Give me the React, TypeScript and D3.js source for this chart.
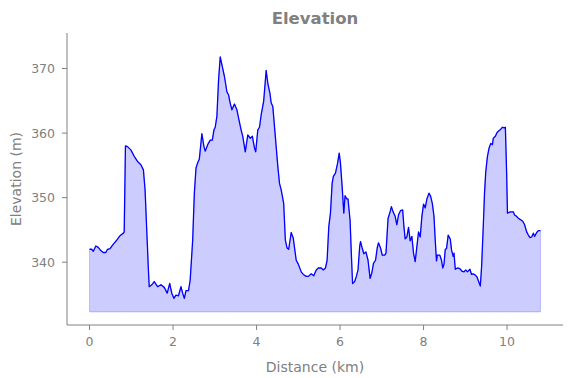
import React from "react";
import * as d3 from "d3";

const distanceKm: number[] = [
  0.0, 0.05, 0.09, 0.15, 0.21, 0.27, 0.33, 0.39, 0.43, 0.49, 0.57, 0.65, 0.73, 0.81, 0.83,
  0.86, 0.91, 0.99, 1.07, 1.15, 1.23, 1.29, 1.33, 1.37, 1.41, 1.43, 1.49, 1.55, 1.63, 1.71,
  1.79, 1.86, 1.92, 1.97, 2.02, 2.07, 2.13, 2.19, 2.23, 2.27, 2.31, 2.37, 2.41, 2.47, 2.51,
  2.55, 2.59, 2.63, 2.69, 2.74, 2.77, 2.83, 2.89, 2.94, 2.98, 3.01, 3.05, 3.09, 3.13, 3.18,
  3.23, 3.29, 3.33, 3.37, 3.41, 3.47, 3.53, 3.58, 3.63, 3.67, 3.73, 3.79, 3.85, 3.9, 3.95,
  3.98, 4.03, 4.07, 4.11, 4.17, 4.23, 4.27, 4.32, 4.35, 4.39, 4.43, 4.47, 4.51, 4.55, 4.59,
  4.65, 4.69, 4.73, 4.77, 4.83, 4.88, 4.95, 5.0, 5.07, 5.12, 5.19, 5.24, 5.31, 5.37, 5.43,
  5.48, 5.55, 5.6, 5.65, 5.69, 5.73, 5.77, 5.81, 5.84, 5.89, 5.94, 5.98, 6.01, 6.05, 6.09,
  6.12, 6.16, 6.19, 6.24, 6.27, 6.3, 6.35, 6.39, 6.43, 6.47, 6.49, 6.53, 6.57, 6.62, 6.67,
  6.72, 6.76, 6.8, 6.85, 6.89, 6.92, 6.97, 7.01, 7.07, 7.1, 7.15, 7.19, 7.23, 7.27, 7.32,
  7.36, 7.4, 7.45, 7.5, 7.53, 7.56, 7.6, 7.64, 7.68, 7.72, 7.76, 7.8, 7.84, 7.88, 7.92,
  7.96, 8.0, 8.04, 8.08, 8.13, 8.17, 8.21, 8.25, 8.28, 8.31, 8.33, 8.39, 8.43, 8.46, 8.49,
  8.52, 8.55, 8.59, 8.64, 8.67, 8.71, 8.73, 8.76, 8.81, 8.87, 8.92, 8.97, 9.01, 9.05, 9.11,
  9.15, 9.19, 9.24, 9.28, 9.32, 9.36, 9.39, 9.43, 9.46, 9.49, 9.53, 9.57, 9.61, 9.65, 9.67,
  9.72, 9.76, 9.81, 9.85, 9.89, 9.93, 9.96, 9.99, 10.01, 10.04, 10.09, 10.15, 10.18, 10.23, 10.27,
  10.32, 10.38, 10.42, 10.47, 10.51, 10.55, 10.59, 10.63, 10.66, 10.71, 10.75, 10.8,
];

const elevationM: number[] = [
  342.0, 342.0, 341.7, 342.5, 342.3, 341.8, 341.5, 341.5, 342.0, 342.1, 342.8, 343.4, 344.1, 344.5, 344.7,
  358.0, 357.9, 357.4, 356.4, 355.6, 355.1, 354.3, 351.2, 345.0, 338.8, 336.2, 336.5, 337.0, 336.2, 336.5,
  336.1, 335.2, 336.7, 335.2, 334.4, 334.9, 334.8, 336.2, 335.2, 334.4, 335.6, 335.6, 337.2, 343.4, 350.7,
  354.6, 355.4, 356.0, 359.9, 357.9, 357.2, 358.2, 358.9, 358.9, 360.5, 360.9, 362.6, 368.2, 371.8, 370.3,
  368.8, 366.4, 365.9, 364.6, 363.6, 364.5, 363.6, 362.0, 360.5, 359.5, 357.1, 359.7, 359.2, 359.5, 357.7,
  357.1, 360.5, 360.9, 362.8, 364.9, 369.7, 367.7, 366.2, 364.7, 364.1, 361.0, 357.9, 354.8, 352.2, 351.2,
  349.1, 343.4, 342.2, 342.0, 344.6, 343.7, 340.3, 339.7, 338.5, 338.1, 337.8, 337.8, 338.2, 337.9, 338.8,
  339.1, 339.1, 338.8, 339.1, 340.3, 345.5, 347.6, 352.2, 353.3, 353.8, 355.3, 356.9, 355.3, 351.7, 347.6,
  350.3, 349.8, 349.8, 346.5, 341.4, 336.7, 337.0, 337.8, 338.8, 342.4, 343.2, 342.2, 341.3, 341.6, 340.3,
  337.5, 338.3, 339.8, 340.3, 342.2, 343.0, 342.2, 341.1, 341.1, 341.4, 346.8, 347.6, 348.6, 347.8, 347.1,
  345.8, 347.3, 348.0, 348.1, 345.5, 343.6, 343.9, 345.4, 343.3, 344.0, 341.4, 340.1, 342.4, 344.7, 343.9,
  347.1, 349.0, 348.4, 349.8, 350.7, 350.2, 349.1, 347.1, 343.4, 340.2, 341.1, 341.1, 340.3, 339.1, 339.7,
  342.0, 342.1, 344.2, 343.6, 341.9, 340.9, 341.4, 338.9, 339.1, 339.0, 338.6, 338.5, 338.8, 338.5, 338.9,
  338.1, 338.2, 338.0, 337.7, 337.0, 336.3, 339.3, 345.5, 350.7, 354.0, 356.4, 357.7, 358.4, 358.2, 359.2,
  359.5, 360.1, 360.4, 360.6, 360.9, 360.8, 360.9, 353.8, 347.6, 347.7, 347.8, 347.8, 347.3, 347.1, 346.8,
  346.6, 346.3, 345.8, 344.7, 344.2, 343.8, 343.9, 344.5, 344.0, 344.6, 344.9, 344.9,
];

const xTicks: number[] = [0, 2, 4, 6, 8, 10];
const yTicks: number[] = [340, 350, 360, 370];
const fillBase = 332.3;
const titleText = "Elevation";
const xLabel = "Distance (km)";
const yLabel = "Elevation (m)";

const W = 571;
const H = 378;
const left = 67;
const right = 563;
const top = 33;
const bottom = 325;
const gray = "#808080";
const font = "'DejaVu Sans', sans-serif";

export default function App() {
  const x = d3.scaleLinear().domain([-0.54, 11.34]).range([left, right]);
  const y = d3.scaleLinear().domain([330.27, 375.5]).range([bottom, top]);
  const pts = distanceKm.map((d, i) => [d, elevationM[i]] as [number, number]);
  const line = d3
    .line<[number, number]>()
    .x((d) => x(d[0]))
    .y((d) => y(d[1]));
  const area = d3
    .area<[number, number]>()
    .x((d) => x(d[0]))
    .y0(() => y(fillBase))
    .y1((d) => y(d[1]));

  return (
    <svg
      width={W}
      height={H}
      style={{ position: "absolute", left: 0, top: 0, background: "#fff" }}
      fontFamily={font}
    >
      <path
        d={area(pts) || ""}
        fill="rgba(0,0,255,0.2)"
        stroke="rgba(0,0,255,0.2)"
        strokeWidth={1}
      />
      <path d={line(pts) || ""} fill="none" stroke="#0000ff" strokeWidth={1.3} strokeLinejoin="round" />

      <line x1={left} x2={left} y1={top} y2={bottom} stroke={gray} strokeWidth={1} />
      <line x1={left} x2={right} y1={bottom} y2={bottom} stroke={gray} strokeWidth={1} />

      {xTicks.map((t) => (
        <g key={"x" + t}>
          <line x1={x(t)} x2={x(t)} y1={bottom} y2={bottom + 5} stroke={gray} strokeWidth={1} />
          <text x={x(t)} y={bottom + 21} textAnchor="middle" fontSize={12.5} fill={gray}>
            {t}
          </text>
        </g>
      ))}
      {yTicks.map((t) => (
        <g key={"y" + t}>
          <line x1={left - 5} x2={left} y1={y(t)} y2={y(t)} stroke={gray} strokeWidth={1} />
          <text x={left - 12} y={y(t) + 4.5} textAnchor="end" fontSize={12.5} fill={gray}>
            {t}
          </text>
        </g>
      ))}

      <text x={(left + right) / 2} y={367 + 5} textAnchor="middle" fontSize={14} fill={gray}>
        {xLabel}
      </text>
      <text
        transform={`translate(${21},${(top + bottom) / 2}) rotate(-90)`}
        textAnchor="middle"
        fontSize={14}
        fill={gray}
      >
        {yLabel}
      </text>
      <text
        x={(left + right) / 2}
        y={24}
        textAnchor="middle"
        fontSize={16.5}
        fontWeight="bold"
        fill={gray}
      >
        {titleText}
      </text>
    </svg>
  );
}
